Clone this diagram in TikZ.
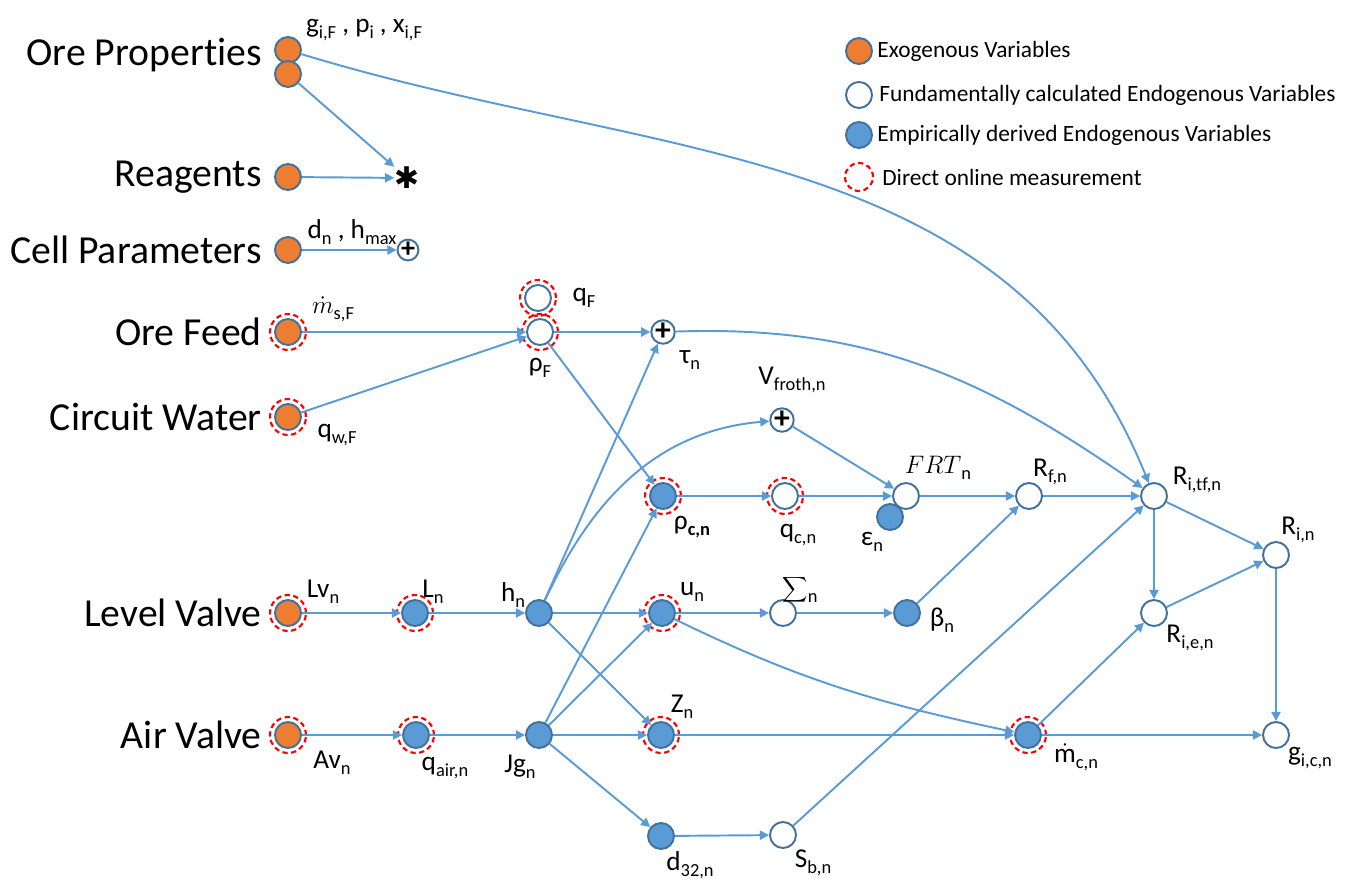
\documentclass[tikz,border=0pt]{standalone}
\usepackage{fontspec}
\setmainfont{Carlito}[Ligatures=NoCommon]
\newfontfamily\symbolfont{DejaVu Sans}
\usepackage{xcolor}
\usepackage{tikz}
\usetikzlibrary{arrows.meta, positioning, calc}
\definecolor{FlowOrange}{RGB}{237, 125, 49}
\definecolor{FlowBlue}{RGB}{91, 155, 213}
\definecolor{FlowRim}{RGB}{65, 113, 156}
\definecolor{FlowRed}{RGB}{255, 0, 0}
\newcommand{\lowidx}[1]{\raisebox{-0.45ex}{\fontsize{10.5}{10.5}\selectfont #1}}
\newcommand{\mdotc}{$\dot{\textrm{m}}$}

\tikzset{
  exo/.style={circle, draw=FlowRim, line width=1.1pt, fill=FlowOrange,
              minimum size=0.52cm, inner sep=0pt},
  emp/.style={exo, fill=FlowBlue},
  fund/.style={exo, fill=white},
  sumnode/.style={circle, draw=FlowRim, line width=1.1pt, fill=white, minimum size=0.47cm,
                  inner sep=0pt, font=\fontsize{18}{18}\selectfont\bfseries},
  meas/.style={draw=FlowRed, line width=1.2pt, dash pattern=on 3pt off 2pt},
  link/.style={draw=FlowBlue, line width=1.1pt, -{Triangle[length=5.2pt,width=5.2pt]}},
  rowtitle/.style={anchor=east, inner sep=0pt, font=\fontsize{22.6}{25}\selectfont},
  varlbl/.style={inner sep=1pt, font=\fontsize{15.5}{17}\selectfont},
  legtext/.style={anchor=west, inner sep=0pt, font=\fontsize{13.3}{15}\selectfont}
}

\begin{document}
\begin{tikzpicture}[x=0.02cm, y=-0.02cm]
  \useasboundingbox (0,0) rectangle (1351,889);

  % row titles
  \node[rowtitle] (tOre)   at (262,55)  {Ore Properties};
  \node[rowtitle] (tReag)  at (262,177) {Reagents};
  \node[rowtitle] (tCell)  at (262,250) {Cell Parameters};
  \node[rowtitle] (tFeed)  at (262,332) {Ore Feed};
  \node[rowtitle] (tWater) at (262,417) {Circuit Water};
  \node[rowtitle] (tLevel) at (262,613) {Level Valve};
  \node[rowtitle] (tAir)   at (262,735) {Air Valve};

  % legend
  \node[exo] (keyExo) at (859,51) {};
  \node[legtext] (keyExoTxt) at (877,51) {Exogenous Variables};
  \node[fund] (keyFund) at (859,95) {};
  \node[legtext] (keyFundTxt) at (879,95) {Fundamentally calculated Endogenous Variables};
  \node[emp] (keyEmp) at (859,135) {};
  \node[legtext] (keyEmpTxt) at (877,135) {Empirically derived Endogenous Variables};
  \coordinate (keyMeas) at (859,177);
  \draw[meas] (keyMeas) circle[radius=0.28cm];
  \node[legtext] (keyMeasTxt) at (882,177) {Direct online measurement};

  % inputs
  \node[exo] (op1)  at (288,50)  {};
  \node[exo] (op2)  at (288,74)  {};
  \node[exo] (reag) at (288,177) {};
  \node[inner sep=0pt, font=\symbolfont\fontsize{17}{17}\selectfont] (mix) at (407,178) {✱};
  \node[exo] (cell) at (288,250) {};
  \node[sumnode, minimum size=0.4cm, font=\fontsize{16}{16}\selectfont\bfseries] (cellsum) at (408,250) {+};
  \node[exo] (msF)  at (288,332) {};
  \node[exo] (qwF)  at (288,417) {};
  \node[exo] (Lv)   at (288,613) {};
  \node[exo] (Av)   at (288,735) {};

  % process variables
  \node[fund] (qF)   at (538,298) {};
  \node[fund] (rhoF) at (540,332) {};
  \node[sumnode] (tau) at (663,332) {+};
  \node[sumnode] (Vfr) at (782,420) {+};
  \node[emp]  (rhoc) at (663,496) {};
  \node[fund] (qc)   at (785,496) {};
  \node[emp]  (eps)  at (890,517) {};
  \node[fund] (FRT)  at (906,496) {};
  \node[fund] (Rf)   at (1029,496) {};
  \node[fund] (Ritf) at (1154,496) {};
  \node[fund] (Rin)  at (1276,555) {};
  \node[fund] (Rie)  at (1154,613) {};
  \node[fund] (gic)  at (1276,735) {};
  \node[emp]  (mc)   at (1028,735) {};
  \node[emp]  (L)    at (415,613) {};
  \node[emp]  (h)    at (539,613) {};
  \node[emp]  (u)    at (662,613) {};
  \node[fund] (Sig)  at (783,613) {};
  \node[emp]  (beta) at (907,613) {};
  \node[emp]  (qair) at (416,735) {};
  \node[emp]  (Jg)   at (539,735) {};
  \node[emp]  (Z)    at (661,735) {};
  \node[emp]  (d32)  at (661,836) {};
  \node[fund] (Sb)   at (783,835) {};

  % online measurements
  \foreach \m in {msF,qwF,qF,rhoF,rhoc,qc,Lv,L,u,Av,qair,Z,mc}
    \draw[meas] (\m.center) circle[radius=0.36cm];

  % variable labels
  \node[varlbl] (lblOre)  at (364,30)  {g\lowidx{i,F} , p\lowidx{i} , x\lowidx{i,F}};
  \node[varlbl] (lblCell) at (352,232) {d\lowidx{n} , h\lowidx{max}};
  \node[varlbl] (lblmsF)  at (333,309) {$\dot{m}$\lowidx{s,F}};
  \node[varlbl] (lblqwF)  at (337,435) {q\lowidx{w,F}};
  \node[varlbl] (lblqF)   at (584,298) {q\lowidx{F}};
  \node[varlbl] (lblrhoF) at (540,368) {ρ\lowidx{F}};
  \node[varlbl] (lbltau)  at (690,360) {τ\lowidx{n}};
  \node[varlbl] (lblVfr)  at (792,380) {V\lowidx{froth,n}};
  \node[varlbl] (lblrhoc) at (692,527) {ρ\lowidx{\textbf{c,n}}};
  \node[varlbl] (lblqc)   at (798,535) {q\lowidx{c,n}};
  \node[varlbl] (lblFRT)  at (938,468) {$FRT$\lowidx{n}};
  \node[varlbl] (lbleps)  at (872,542) {ε\lowidx{n}};
  \node[varlbl] (lblRf)   at (1050,472) {R\lowidx{f,n}};
  \node[varlbl] (lblRitf) at (1197,480) {R\lowidx{i,tf,n}};
  \node[varlbl] (lblRin)  at (1298,530) {R\lowidx{i,n}};
  \node[varlbl] (lblRie)  at (1190,638) {R\lowidx{i,e,n}};
  \node[varlbl] (lblgic)  at (1310,758) {g\lowidx{i,c,n}};
  \node[varlbl] (lblmc)   at (1076,757) {\mdotc\lowidx{c,n}};
  \node[varlbl] (lblLv)   at (323,592) {Lv\lowidx{n}};
  \node[varlbl] (lblL)    at (433,592) {L\lowidx{n}};
  \node[varlbl] (lblh)    at (513,595) {h\lowidx{n}};
  \node[varlbl] (lblu)    at (692,592) {u\lowidx{n}};
  \node[varlbl] (lblSig)  at (800,590) {$\displaystyle\sum$\lowidx{n}};
  \node[varlbl] (lblbeta) at (942,620) {β\lowidx{n}};
  \node[varlbl] (lblAv)   at (332,763) {Av\lowidx{n}};
  \node[varlbl] (lblqair) at (445,768) {q\lowidx{air,n}};
  \node[varlbl] (lblJg)   at (520,767) {Jg\lowidx{n}};
  \node[varlbl] (lblZ)    at (682,707) {Z\lowidx{n}};
  \node[varlbl] (lbld32)  at (690,865) {d\lowidx{32,n}};
  \node[varlbl] (lblSb)   at (813,863) {S\lowidx{b,n}};

  % connections
  \draw[link] (op1) to[out=-17, in=112] (Ritf);
  \draw[link] (op2) -- (mix);
  \draw[link] (reag) -- (mix);
  \draw[link] (cell) -- (cellsum);
  \draw[link] (msF) -- (rhoF);
  \draw[link] (qwF) -- (rhoF);
  \draw[link] (rhoF) -- (tau);
  \draw[link] (rhoF) -- (rhoc);
  \draw[link] (tau) to[out=2, in=145] (Ritf);
  \draw[link] (h) -- (tau);
  \draw[link] (h) to[out=65, in=185] (Vfr);
  \draw[link] (Jg) -- (rhoc);
  \draw[link] (Vfr) -- (FRT);
  \draw[link] (rhoc) -- (qc);
  \draw[link] (qc) -- (FRT);
  \draw[link] (FRT) -- (Rf);
  \draw[link] (Rf) -- (Ritf);
  \draw[link] (beta) -- (Rf);
  \draw[link] (Sb) -- (Ritf);
  \draw[link] (Ritf) -- (Rin);
  \draw[link] (Ritf) -- (Rie);
  \draw[link] (Rie) -- (Rin);
  \draw[link] (mc) -- (Rie);
  \draw[link] (Rin) -- (gic);
  \draw[link] (mc) -- (gic);
  \draw[link] (Lv) -- (L);
  \draw[link] (L) -- (h);
  \draw[link] (h) -- (u);
  \draw[link] (h) -- (Z);
  \draw[link] (Av) -- (qair);
  \draw[link] (qair) -- (Jg);
  \draw[link] (Jg) -- (u);
  \draw[link] (Jg) -- (Z);
  \draw[link] (Jg) -- (d32);
  \draw[link] (u) -- (Sig);
  \draw[link] (Sig) -- (beta);
  \draw[link] (u) to[out=-26, in=168] (mc);
  \draw[link] (Z) -- (mc);
  \draw[link] (d32) -- (Sb);
\end{tikzpicture}
\end{document}
